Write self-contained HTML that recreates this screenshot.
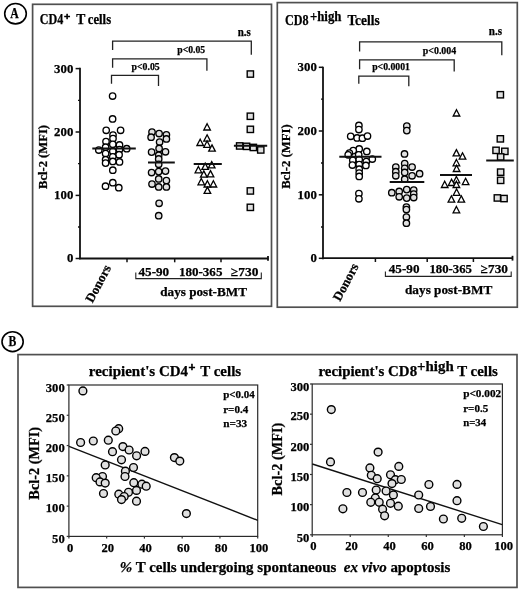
<!DOCTYPE html><html><head><meta charset="utf-8"><style>html,body{margin:0;padding:0;background:#fff;}svg{display:block;font-family:"Liberation Serif",serif;font-weight:bold;}text{stroke:#000;stroke-width:0.25px;paint-order:stroke;}.wrap{filter:grayscale(1);}</style></head><body>
<div class="wrap">
<svg width="520" height="590" viewBox="0 0 520 590">
<rect width="520" height="590" fill="#fff"/>
<rect x="32.6" y="4.3" width="238.9" height="302" fill="none" stroke="#505050" stroke-width="1.7"/>
<rect x="277.3" y="2.6" width="240" height="304.6" fill="none" stroke="#505050" stroke-width="1.7"/>
<rect x="18" y="354.6" width="499" height="232.8" fill="none" stroke="#505050" stroke-width="1.7"/>
<ellipse cx="15.5" cy="13.7" rx="10.8" ry="10.2" fill="none" stroke="#000" stroke-width="1.6"/>
<text x="10.3" y="18.2" font-size="14.5" text-anchor="start" textLength="8.5" lengthAdjust="spacingAndGlyphs" >A</text>
<ellipse cx="12.6" cy="341.7" rx="10.6" ry="9.9" fill="none" stroke="#000" stroke-width="1.6"/>
<text x="8.4" y="345.8" font-size="14.5" text-anchor="start" textLength="7.8" lengthAdjust="spacingAndGlyphs" >B</text>
<text x="39.8" y="24" font-size="13.6" text-anchor="start" ><tspan textLength="23.5" lengthAdjust="spacingAndGlyphs">CD4</tspan><tspan font-size="11" dy="-4.3" dx="0.8" style="stroke-width:0.7px">+</tspan><tspan dy="4.3" x="76.3">T</tspan><tspan x="87.8" textLength="23.3" lengthAdjust="spacingAndGlyphs">cells</tspan></text>
<path d="M112.6,50 V41.2 H251.3 V54.8" fill="none" stroke="#222" stroke-width="1.3"/>
<path d="M112.6,67.7 V58.9 H206.9 V70.8" fill="none" stroke="#222" stroke-width="1.3"/>
<path d="M111.5,83.8 V75.4 H158.5 V86" fill="none" stroke="#222" stroke-width="1.3"/>
<text x="237.7" y="35.6" font-size="11.5" text-anchor="start" textLength="13.1" lengthAdjust="spacingAndGlyphs" >n.s</text>
<text x="177.3" y="52.8" font-size="11" text-anchor="start" textLength="27.9" lengthAdjust="spacingAndGlyphs" >p&lt;0.05</text>
<text x="131.5" y="69.6" font-size="11" text-anchor="start" textLength="28.2" lengthAdjust="spacingAndGlyphs" >p&lt;0.05</text>
<line x1="80" y1="67.8" x2="80" y2="259.3" stroke="#111" stroke-width="1.8"/>
<line x1="75.6" y1="68.6" x2="80" y2="68.6" stroke="#111" stroke-width="1.5"/>
<text x="73.3" y="72.5" font-size="12.8" text-anchor="end" >300</text>
<line x1="75.6" y1="132.0" x2="80" y2="132.0" stroke="#111" stroke-width="1.5"/>
<text x="73.3" y="135.9" font-size="12.8" text-anchor="end" >200</text>
<line x1="75.6" y1="195.4" x2="80" y2="195.4" stroke="#111" stroke-width="1.5"/>
<text x="73.3" y="199.3" font-size="12.8" text-anchor="end" >100</text>
<line x1="75.6" y1="258.5" x2="80" y2="258.5" stroke="#111" stroke-width="1.5"/>
<text x="73.3" y="262.4" font-size="12.8" text-anchor="end" >0</text>
<line x1="78" y1="100.3" x2="80" y2="100.3" stroke="#111" stroke-width="1.3"/>
<line x1="78" y1="163.7" x2="80" y2="163.7" stroke="#111" stroke-width="1.3"/>
<line x1="78" y1="227.0" x2="80" y2="227.0" stroke="#111" stroke-width="1.3"/>
<line x1="79.2" y1="258.5" x2="268.3" y2="258.5" stroke="#111" stroke-width="1.8"/>
<line x1="127" y1="258.5" x2="127" y2="262.3" stroke="#111" stroke-width="1.5"/>
<line x1="174.7" y1="258.5" x2="174.7" y2="262.3" stroke="#111" stroke-width="1.5"/>
<line x1="221" y1="258.5" x2="221" y2="262.3" stroke="#111" stroke-width="1.5"/>
<line x1="268" y1="255.9" x2="268" y2="260.8" stroke="#111" stroke-width="1.8"/>
<text x="0" y="0" font-size="13" text-anchor="start" transform="translate(92.5,303.5) rotate(-62)">Donors</text>
<text x="138.5" y="275.6" font-size="12.6" text-anchor="start" textLength="30.7" lengthAdjust="spacingAndGlyphs" >45-90</text>
<text x="179" y="275.6" font-size="12.6" text-anchor="start" textLength="43.4" lengthAdjust="spacingAndGlyphs" >180-365</text>
<text x="231" y="275.6" font-size="12.6" text-anchor="start" textLength="27.5" lengthAdjust="spacingAndGlyphs" >≥730</text>
<path d="M135.8,272.5 V278.6 H261.3 V272.5" fill="none" stroke="#222" stroke-width="1.1"/>
<text x="160.3" y="295.5" font-size="13" text-anchor="start" textLength="86.7" lengthAdjust="spacingAndGlyphs" >days post-BMT</text>
<text x="0" y="0" font-size="13.1" text-anchor="middle" textLength="64" lengthAdjust="spacingAndGlyphs" transform="translate(47,157) rotate(-90)">Bcl-2 (MFI)</text>
<circle cx="112.6" cy="96" r="3.2" fill="#fff" stroke="#000" stroke-width="1.35"/>
<circle cx="112.6" cy="118.9" r="3.2" fill="#fff" stroke="#000" stroke-width="1.35"/>
<circle cx="106.2" cy="130.3" r="3.2" fill="#fff" stroke="#000" stroke-width="1.35"/>
<circle cx="120.6" cy="130.3" r="3.2" fill="#fff" stroke="#000" stroke-width="1.35"/>
<circle cx="113.0" cy="135" r="3.2" fill="#fff" stroke="#000" stroke-width="1.35"/>
<circle cx="113" cy="138.5" r="3.2" fill="#fff" stroke="#000" stroke-width="1.35"/>
<circle cx="106" cy="141.5" r="3.2" fill="#fff" stroke="#000" stroke-width="1.35"/>
<circle cx="112.8" cy="144.3" r="3.2" fill="#fff" stroke="#000" stroke-width="1.35"/>
<circle cx="119.5" cy="144.9" r="3.2" fill="#fff" stroke="#000" stroke-width="1.35"/>
<circle cx="105.6" cy="147.2" r="3.2" fill="#fff" stroke="#000" stroke-width="1.35"/>
<circle cx="98.8" cy="150" r="3.2" fill="#fff" stroke="#000" stroke-width="1.35"/>
<circle cx="112.8" cy="151.3" r="3.2" fill="#fff" stroke="#000" stroke-width="1.35"/>
<circle cx="119.5" cy="149.6" r="3.2" fill="#fff" stroke="#000" stroke-width="1.35"/>
<circle cx="126.7" cy="148.7" r="3.2" fill="#fff" stroke="#000" stroke-width="1.35"/>
<circle cx="105.6" cy="153.6" r="3.2" fill="#fff" stroke="#000" stroke-width="1.35"/>
<circle cx="119.1" cy="154.7" r="3.2" fill="#fff" stroke="#000" stroke-width="1.35"/>
<circle cx="112.8" cy="156.8" r="3.2" fill="#fff" stroke="#000" stroke-width="1.35"/>
<circle cx="105.6" cy="159.7" r="3.2" fill="#fff" stroke="#000" stroke-width="1.35"/>
<circle cx="105.6" cy="163.1" r="3.2" fill="#fff" stroke="#000" stroke-width="1.35"/>
<circle cx="112.8" cy="161.4" r="3.2" fill="#fff" stroke="#000" stroke-width="1.35"/>
<circle cx="119.5" cy="161.9" r="3.2" fill="#fff" stroke="#000" stroke-width="1.35"/>
<circle cx="112.8" cy="170.2" r="3.2" fill="#fff" stroke="#000" stroke-width="1.35"/>
<circle cx="105.5" cy="186.2" r="3.2" fill="#fff" stroke="#000" stroke-width="1.35"/>
<circle cx="112.8" cy="182.7" r="3.2" fill="#fff" stroke="#000" stroke-width="1.35"/>
<circle cx="118.8" cy="187.7" r="3.2" fill="#fff" stroke="#000" stroke-width="1.35"/>
<line x1="92.3" y1="148.4" x2="135.8" y2="148.4" stroke="#111" stroke-width="2"/>
<circle cx="152" cy="132.1" r="3.2" fill="#e0e0e0" stroke="#000" stroke-width="1.35"/>
<circle cx="159.1" cy="133.5" r="3.2" fill="#e0e0e0" stroke="#000" stroke-width="1.35"/>
<circle cx="166.4" cy="134.8" r="3.2" fill="#e0e0e0" stroke="#000" stroke-width="1.35"/>
<circle cx="151.1" cy="137.2" r="3.2" fill="#e0e0e0" stroke="#000" stroke-width="1.35"/>
<circle cx="166.4" cy="138.9" r="3.2" fill="#e0e0e0" stroke="#000" stroke-width="1.35"/>
<circle cx="159.6" cy="142" r="3.2" fill="#e0e0e0" stroke="#000" stroke-width="1.35"/>
<circle cx="159.1" cy="148.4" r="3.2" fill="#e0e0e0" stroke="#000" stroke-width="1.35"/>
<circle cx="151.6" cy="152.1" r="3.2" fill="#e0e0e0" stroke="#000" stroke-width="1.35"/>
<circle cx="165.5" cy="151.8" r="3.2" fill="#e0e0e0" stroke="#000" stroke-width="1.35"/>
<circle cx="158.7" cy="155.2" r="3.2" fill="#e0e0e0" stroke="#000" stroke-width="1.35"/>
<circle cx="158.7" cy="158.9" r="3.2" fill="#e0e0e0" stroke="#000" stroke-width="1.35"/>
<circle cx="158.7" cy="164.3" r="3.2" fill="#e0e0e0" stroke="#000" stroke-width="1.35"/>
<circle cx="151.6" cy="172.5" r="3.2" fill="#e0e0e0" stroke="#000" stroke-width="1.35"/>
<circle cx="158.7" cy="171.6" r="3.2" fill="#e0e0e0" stroke="#000" stroke-width="1.35"/>
<circle cx="165.5" cy="171.1" r="3.2" fill="#e0e0e0" stroke="#000" stroke-width="1.35"/>
<circle cx="158.7" cy="178.9" r="3.2" fill="#e0e0e0" stroke="#000" stroke-width="1.35"/>
<circle cx="166.4" cy="180.6" r="3.2" fill="#e0e0e0" stroke="#000" stroke-width="1.35"/>
<circle cx="152" cy="184" r="3.2" fill="#e0e0e0" stroke="#000" stroke-width="1.35"/>
<circle cx="158.7" cy="186.9" r="3.2" fill="#e0e0e0" stroke="#000" stroke-width="1.35"/>
<circle cx="166.4" cy="186.9" r="3.2" fill="#e0e0e0" stroke="#000" stroke-width="1.35"/>
<circle cx="159.1" cy="203.3" r="3.2" fill="#e0e0e0" stroke="#000" stroke-width="1.35"/>
<circle cx="158.7" cy="215.7" r="3.2" fill="#e0e0e0" stroke="#000" stroke-width="1.35"/>
<line x1="148" y1="162.5" x2="174.8" y2="162.5" stroke="#111" stroke-width="2"/>
<path d="M207.1,123.7 L210.4,130.0 L203.8,130.0 Z" fill="#fff" stroke="#000" stroke-width="1.3" stroke-linejoin="miter"/>
<path d="M207.1,134.8 L210.4,141.1 L203.8,141.1 Z" fill="#fff" stroke="#000" stroke-width="1.3" stroke-linejoin="miter"/>
<path d="M200.2,139.2 L203.5,145.5 L196.9,145.5 Z" fill="#fff" stroke="#000" stroke-width="1.3" stroke-linejoin="miter"/>
<path d="M207.1,141.0 L210.4,147.3 L203.8,147.3 Z" fill="#fff" stroke="#000" stroke-width="1.3" stroke-linejoin="miter"/>
<path d="M212.0,144.9 L215.3,151.2 L208.7,151.2 Z" fill="#fff" stroke="#000" stroke-width="1.3" stroke-linejoin="miter"/>
<path d="M205.2,163.1 L208.5,169.4 L201.9,169.4 Z" fill="#fff" stroke="#000" stroke-width="1.3" stroke-linejoin="miter"/>
<path d="M211.7,161.6 L215.0,167.9 L208.4,167.9 Z" fill="#fff" stroke="#000" stroke-width="1.3" stroke-linejoin="miter"/>
<path d="M198.4,166.5 L201.7,172.8 L195.1,172.8 Z" fill="#fff" stroke="#000" stroke-width="1.3" stroke-linejoin="miter"/>
<path d="M203.8,170.9 L207.1,177.2 L200.5,177.2 Z" fill="#fff" stroke="#000" stroke-width="1.3" stroke-linejoin="miter"/>
<path d="M210.5,170.6 L213.8,176.9 L207.2,176.9 Z" fill="#fff" stroke="#000" stroke-width="1.3" stroke-linejoin="miter"/>
<path d="M201.3,178.5 L204.6,184.8 L198.0,184.8 Z" fill="#fff" stroke="#000" stroke-width="1.3" stroke-linejoin="miter"/>
<path d="M207.4,180.7 L210.7,187.0 L204.1,187.0 Z" fill="#fff" stroke="#000" stroke-width="1.3" stroke-linejoin="miter"/>
<path d="M213.4,180.7 L216.7,187.0 L210.1,187.0 Z" fill="#fff" stroke="#000" stroke-width="1.3" stroke-linejoin="miter"/>
<path d="M207.4,187.1 L210.7,193.4 L204.1,193.4 Z" fill="#fff" stroke="#000" stroke-width="1.3" stroke-linejoin="miter"/>
<line x1="193.7" y1="164" x2="221.8" y2="164" stroke="#111" stroke-width="2"/>
<rect x="247.2" y="70.9" width="6.3" height="6.3" fill="#e0e0e0" stroke="#000" stroke-width="1.4"/>
<rect x="247.2" y="113.1" width="6.3" height="6.3" fill="#e0e0e0" stroke="#000" stroke-width="1.4"/>
<rect x="247.2" y="126.2" width="6.3" height="6.3" fill="#e0e0e0" stroke="#000" stroke-width="1.4"/>
<rect x="236.5" y="142.8" width="6.3" height="6.3" fill="#e0e0e0" stroke="#000" stroke-width="1.4"/>
<rect x="243.4" y="143.2" width="6.3" height="6.3" fill="#e0e0e0" stroke="#000" stroke-width="1.4"/>
<rect x="250.2" y="144.3" width="6.3" height="6.3" fill="#e0e0e0" stroke="#000" stroke-width="1.4"/>
<rect x="257.6" y="146.8" width="6.3" height="6.3" fill="#e0e0e0" stroke="#000" stroke-width="1.4"/>
<rect x="247.2" y="187.8" width="6.3" height="6.3" fill="#e0e0e0" stroke="#000" stroke-width="1.4"/>
<rect x="247.2" y="204.2" width="6.3" height="6.3" fill="#e0e0e0" stroke="#000" stroke-width="1.4"/>
<line x1="233.9" y1="145.7" x2="267.2" y2="145.7" stroke="#111" stroke-width="2"/>
<text x="285.1" y="25" font-size="14" text-anchor="start" ><tspan textLength="23.6" lengthAdjust="spacingAndGlyphs">CD8</tspan><tspan x="309.9" dy="-4.4" textLength="31.6" lengthAdjust="spacingAndGlyphs">+high</tspan></text>
<text x="347.4" y="25" font-size="14" text-anchor="start" textLength="32.2" lengthAdjust="spacingAndGlyphs" >Tcells</text>
<path d="M359.6,51.5 V41.8 H501.8 V55.2" fill="none" stroke="#222" stroke-width="1.3"/>
<path d="M359.6,69.2 V59.8 H454.2 V71.5" fill="none" stroke="#222" stroke-width="1.3"/>
<path d="M358.8,83.8 V76.2 H408.8 V86.2" fill="none" stroke="#222" stroke-width="1.3"/>
<text x="488.8" y="35.2" font-size="11.5" text-anchor="start" textLength="13.3" lengthAdjust="spacingAndGlyphs" >n.s</text>
<text x="422.8" y="53.5" font-size="11" text-anchor="start" textLength="33.4" lengthAdjust="spacingAndGlyphs" >p&lt;0.004</text>
<text x="372.2" y="70.1" font-size="11" text-anchor="start" textLength="37.8" lengthAdjust="spacingAndGlyphs" >p&lt;0.0001</text>
<line x1="323" y1="66.8" x2="323" y2="259.3" stroke="#111" stroke-width="1.8"/>
<line x1="318.8" y1="67.3" x2="323" y2="67.3" stroke="#111" stroke-width="1.5"/>
<text x="316.8" y="71.2" font-size="12.8" text-anchor="end" >300</text>
<line x1="318.8" y1="131.0" x2="323" y2="131.0" stroke="#111" stroke-width="1.5"/>
<text x="316.8" y="134.9" font-size="12.8" text-anchor="end" >200</text>
<line x1="318.8" y1="194.8" x2="323" y2="194.8" stroke="#111" stroke-width="1.5"/>
<text x="316.8" y="198.70000000000002" font-size="12.8" text-anchor="end" >100</text>
<line x1="318.8" y1="258.3" x2="323" y2="258.3" stroke="#111" stroke-width="1.5"/>
<text x="316.8" y="262.2" font-size="12.8" text-anchor="end" >0</text>
<line x1="321" y1="99.2" x2="323" y2="99.2" stroke="#111" stroke-width="1.3"/>
<line x1="321" y1="163" x2="323" y2="163" stroke="#111" stroke-width="1.3"/>
<line x1="321" y1="227" x2="323" y2="227" stroke="#111" stroke-width="1.3"/>
<line x1="322.2" y1="258.2" x2="512.8" y2="258.2" stroke="#111" stroke-width="1.8"/>
<line x1="375.4" y1="258.2" x2="375.4" y2="262" stroke="#111" stroke-width="1.5"/>
<line x1="427.2" y1="258.2" x2="427.2" y2="262" stroke="#111" stroke-width="1.5"/>
<line x1="473.4" y1="258.2" x2="473.4" y2="262" stroke="#111" stroke-width="1.5"/>
<line x1="512.5" y1="255.8" x2="512.5" y2="260.6" stroke="#111" stroke-width="1.8"/>
<text x="0" y="0" font-size="13" text-anchor="start" transform="translate(340,302) rotate(-62)">Donors</text>
<text x="388.8" y="273.4" font-size="12.6" text-anchor="start" textLength="30.7" lengthAdjust="spacingAndGlyphs" >45-90</text>
<text x="429.5" y="273.4" font-size="12.6" text-anchor="start" textLength="42.5" lengthAdjust="spacingAndGlyphs" >180-365</text>
<text x="480.8" y="273.4" font-size="12.6" text-anchor="start" textLength="27.2" lengthAdjust="spacingAndGlyphs" >≥730</text>
<path d="M385.4,271.4 V276.4 H511.2 V271.4" fill="none" stroke="#222" stroke-width="1.1"/>
<text x="405" y="294" font-size="13" text-anchor="start" textLength="87.3" lengthAdjust="spacingAndGlyphs" >days post-BMT</text>
<text x="0" y="0" font-size="13.1" text-anchor="middle" textLength="64.5" lengthAdjust="spacingAndGlyphs" transform="translate(290,156.6) rotate(-90)">Bcl-2 (MFI)</text>
<circle cx="358.9" cy="125.4" r="3.2" fill="#fff" stroke="#000" stroke-width="1.35"/>
<circle cx="358.9" cy="129.5" r="3.2" fill="#fff" stroke="#000" stroke-width="1.35"/>
<circle cx="350.7" cy="136.3" r="3.2" fill="#fff" stroke="#000" stroke-width="1.35"/>
<circle cx="357.1" cy="137.9" r="3.2" fill="#fff" stroke="#000" stroke-width="1.35"/>
<circle cx="362.4" cy="138.2" r="3.2" fill="#fff" stroke="#000" stroke-width="1.35"/>
<circle cx="367.5" cy="136" r="3.2" fill="#fff" stroke="#000" stroke-width="1.35"/>
<circle cx="359.2" cy="148.9" r="3.2" fill="#fff" stroke="#000" stroke-width="1.35"/>
<circle cx="353.2" cy="150.6" r="3.2" fill="#fff" stroke="#000" stroke-width="1.35"/>
<circle cx="366.8" cy="151.4" r="3.2" fill="#fff" stroke="#000" stroke-width="1.35"/>
<circle cx="349.4" cy="153.1" r="3.2" fill="#fff" stroke="#000" stroke-width="1.35"/>
<circle cx="348.2" cy="154.8" r="3.2" fill="#fff" stroke="#000" stroke-width="1.35"/>
<circle cx="358.7" cy="154.8" r="3.2" fill="#fff" stroke="#000" stroke-width="1.35"/>
<circle cx="372.3" cy="159" r="3.2" fill="#fff" stroke="#000" stroke-width="1.35"/>
<circle cx="352.8" cy="160.3" r="3.2" fill="#fff" stroke="#000" stroke-width="1.35"/>
<circle cx="359.2" cy="159.5" r="3.2" fill="#fff" stroke="#000" stroke-width="1.35"/>
<circle cx="366.3" cy="161.6" r="3.2" fill="#fff" stroke="#000" stroke-width="1.35"/>
<circle cx="352.4" cy="165" r="3.2" fill="#fff" stroke="#000" stroke-width="1.35"/>
<circle cx="359.2" cy="164.5" r="3.2" fill="#fff" stroke="#000" stroke-width="1.35"/>
<circle cx="365.9" cy="165.4" r="3.2" fill="#fff" stroke="#000" stroke-width="1.35"/>
<circle cx="359.2" cy="169.2" r="3.2" fill="#fff" stroke="#000" stroke-width="1.35"/>
<circle cx="359.2" cy="173" r="3.2" fill="#fff" stroke="#000" stroke-width="1.35"/>
<circle cx="359.2" cy="176.4" r="3.2" fill="#fff" stroke="#000" stroke-width="1.35"/>
<circle cx="358.9" cy="193.5" r="3.2" fill="#fff" stroke="#000" stroke-width="1.35"/>
<circle cx="358.9" cy="198.8" r="3.2" fill="#fff" stroke="#000" stroke-width="1.35"/>
<line x1="339.3" y1="156.7" x2="381.5" y2="156.7" stroke="#111" stroke-width="2"/>
<circle cx="406.8" cy="126.1" r="3.2" fill="#e0e0e0" stroke="#000" stroke-width="1.35"/>
<circle cx="406.8" cy="130.6" r="3.2" fill="#e0e0e0" stroke="#000" stroke-width="1.35"/>
<circle cx="404.5" cy="153.9" r="3.2" fill="#e0e0e0" stroke="#000" stroke-width="1.35"/>
<circle cx="404.7" cy="163.6" r="3.2" fill="#e0e0e0" stroke="#000" stroke-width="1.35"/>
<circle cx="395.8" cy="167" r="3.2" fill="#e0e0e0" stroke="#000" stroke-width="1.35"/>
<circle cx="412.1" cy="167" r="3.2" fill="#e0e0e0" stroke="#000" stroke-width="1.35"/>
<circle cx="404.7" cy="168.3" r="3.2" fill="#e0e0e0" stroke="#000" stroke-width="1.35"/>
<circle cx="395.8" cy="171.7" r="3.2" fill="#e0e0e0" stroke="#000" stroke-width="1.35"/>
<circle cx="404.7" cy="172.4" r="3.2" fill="#e0e0e0" stroke="#000" stroke-width="1.35"/>
<circle cx="419.6" cy="173.7" r="3.2" fill="#e0e0e0" stroke="#000" stroke-width="1.35"/>
<circle cx="395.8" cy="175.8" r="3.2" fill="#e0e0e0" stroke="#000" stroke-width="1.35"/>
<circle cx="412.1" cy="175.8" r="3.2" fill="#e0e0e0" stroke="#000" stroke-width="1.35"/>
<circle cx="404.7" cy="179.2" r="3.2" fill="#e0e0e0" stroke="#000" stroke-width="1.35"/>
<circle cx="391.8" cy="192.7" r="3.2" fill="#e0e0e0" stroke="#000" stroke-width="1.35"/>
<circle cx="399.2" cy="191.4" r="3.2" fill="#e0e0e0" stroke="#000" stroke-width="1.35"/>
<circle cx="406.7" cy="189.6" r="3.2" fill="#e0e0e0" stroke="#000" stroke-width="1.35"/>
<circle cx="413.7" cy="190" r="3.2" fill="#e0e0e0" stroke="#000" stroke-width="1.35"/>
<circle cx="399.2" cy="196.8" r="3.2" fill="#e0e0e0" stroke="#000" stroke-width="1.35"/>
<circle cx="406.7" cy="198.1" r="3.2" fill="#e0e0e0" stroke="#000" stroke-width="1.35"/>
<circle cx="413.7" cy="194.1" r="3.2" fill="#e0e0e0" stroke="#000" stroke-width="1.35"/>
<circle cx="413.7" cy="197.5" r="3.2" fill="#e0e0e0" stroke="#000" stroke-width="1.35"/>
<circle cx="406.4" cy="207" r="3.2" fill="#e0e0e0" stroke="#000" stroke-width="1.35"/>
<circle cx="406.4" cy="209.5" r="3.2" fill="#e0e0e0" stroke="#000" stroke-width="1.35"/>
<circle cx="406.4" cy="217.1" r="3.2" fill="#e0e0e0" stroke="#000" stroke-width="1.35"/>
<circle cx="406.4" cy="223.2" r="3.2" fill="#e0e0e0" stroke="#000" stroke-width="1.35"/>
<line x1="389.7" y1="182.1" x2="424.3" y2="182.1" stroke="#111" stroke-width="2"/>
<path d="M456.5,109.7 L459.8,116.0 L453.2,116.0 Z" fill="#fff" stroke="#000" stroke-width="1.3" stroke-linejoin="miter"/>
<path d="M456.4,149.6 L459.7,155.9 L453.1,155.9 Z" fill="#fff" stroke="#000" stroke-width="1.3" stroke-linejoin="miter"/>
<path d="M462.5,152.8 L465.8,159.1 L459.2,159.1 Z" fill="#fff" stroke="#000" stroke-width="1.3" stroke-linejoin="miter"/>
<path d="M456.4,159.5 L459.7,165.8 L453.1,165.8 Z" fill="#fff" stroke="#000" stroke-width="1.3" stroke-linejoin="miter"/>
<path d="M456.6,165.2 L459.9,171.5 L453.3,171.5 Z" fill="#fff" stroke="#000" stroke-width="1.3" stroke-linejoin="miter"/>
<path d="M456.4,176.5 L459.7,182.8 L453.1,182.8 Z" fill="#fff" stroke="#000" stroke-width="1.3" stroke-linejoin="miter"/>
<path d="M444.7,181.2 L448.0,187.5 L441.4,187.5 Z" fill="#fff" stroke="#000" stroke-width="1.3" stroke-linejoin="miter"/>
<path d="M451.6,179.2 L454.9,185.5 L448.3,185.5 Z" fill="#fff" stroke="#000" stroke-width="1.3" stroke-linejoin="miter"/>
<path d="M456.4,181.2 L459.7,187.5 L453.1,187.5 Z" fill="#fff" stroke="#000" stroke-width="1.3" stroke-linejoin="miter"/>
<path d="M465.6,178.3 L468.9,184.6 L462.3,184.6 Z" fill="#fff" stroke="#000" stroke-width="1.3" stroke-linejoin="miter"/>
<path d="M456.6,189.0 L459.9,195.3 L453.3,195.3 Z" fill="#fff" stroke="#000" stroke-width="1.3" stroke-linejoin="miter"/>
<path d="M451.4,195.8 L454.7,202.1 L448.1,202.1 Z" fill="#fff" stroke="#000" stroke-width="1.3" stroke-linejoin="miter"/>
<path d="M461.3,195.8 L464.6,202.1 L458.0,202.1 Z" fill="#fff" stroke="#000" stroke-width="1.3" stroke-linejoin="miter"/>
<path d="M456.4,206.5 L459.7,212.8 L453.1,212.8 Z" fill="#fff" stroke="#000" stroke-width="1.3" stroke-linejoin="miter"/>
<line x1="440" y1="175" x2="472" y2="175" stroke="#111" stroke-width="2"/>
<rect x="497.2" y="91.6" width="6.3" height="6.3" fill="#e0e0e0" stroke="#000" stroke-width="1.4"/>
<rect x="497.2" y="135.7" width="6.3" height="6.3" fill="#e0e0e0" stroke="#000" stroke-width="1.4"/>
<rect x="492.9" y="147.2" width="6.3" height="6.3" fill="#e0e0e0" stroke="#000" stroke-width="1.4"/>
<rect x="501.7" y="148.2" width="6.3" height="6.3" fill="#e0e0e0" stroke="#000" stroke-width="1.4"/>
<rect x="497.5" y="153.8" width="6.3" height="6.3" fill="#e0e0e0" stroke="#000" stroke-width="1.4"/>
<rect x="497.5" y="169.0" width="6.3" height="6.3" fill="#e0e0e0" stroke="#000" stroke-width="1.4"/>
<rect x="497.5" y="177.2" width="6.3" height="6.3" fill="#e0e0e0" stroke="#000" stroke-width="1.4"/>
<rect x="494.2" y="194.8" width="6.3" height="6.3" fill="#e0e0e0" stroke="#000" stroke-width="1.4"/>
<rect x="500.9" y="195.4" width="6.3" height="6.3" fill="#e0e0e0" stroke="#000" stroke-width="1.4"/>
<line x1="486.2" y1="160.5" x2="513.8" y2="160.5" stroke="#111" stroke-width="2"/>
<rect x="68.9" y="385" width="188.79999999999998" height="151.39999999999998" fill="none" stroke="#2a2a2a" stroke-width="1.2"/>
<line x1="66.7" y1="385.0" x2="68.9" y2="385.0" stroke="#333" stroke-width="1.2"/>
<text x="64.7" y="392.0" font-size="12.6" text-anchor="end" >300</text>
<line x1="66.7" y1="415.28" x2="68.9" y2="415.28" stroke="#333" stroke-width="1.2"/>
<text x="64.7" y="421.58" font-size="12.6" text-anchor="end" >250</text>
<line x1="66.7" y1="445.56" x2="68.9" y2="445.56" stroke="#333" stroke-width="1.2"/>
<text x="64.7" y="451.86" font-size="12.6" text-anchor="end" >200</text>
<line x1="66.7" y1="475.84" x2="68.9" y2="475.84" stroke="#333" stroke-width="1.2"/>
<text x="64.7" y="482.14" font-size="12.6" text-anchor="end" >150</text>
<line x1="66.7" y1="506.12" x2="68.9" y2="506.12" stroke="#333" stroke-width="1.2"/>
<text x="64.7" y="512.42" font-size="12.6" text-anchor="end" >100</text>
<line x1="66.7" y1="536.4" x2="68.9" y2="536.4" stroke="#333" stroke-width="1.2"/>
<text x="64.7" y="543.3" font-size="12.6" text-anchor="end" >50</text>
<line x1="68.9" y1="536.4" x2="68.9" y2="538.6" stroke="#333" stroke-width="1.2"/>
<text x="70.10000000000001" y="551.5" font-size="12.6" text-anchor="middle" >0</text>
<line x1="106.66" y1="536.4" x2="106.66" y2="538.6" stroke="#333" stroke-width="1.2"/>
<text x="107.86" y="551.5" font-size="12.6" text-anchor="middle" >20</text>
<line x1="144.42000000000002" y1="536.4" x2="144.42000000000002" y2="538.6" stroke="#333" stroke-width="1.2"/>
<text x="145.62" y="551.5" font-size="12.6" text-anchor="middle" >40</text>
<line x1="182.18" y1="536.4" x2="182.18" y2="538.6" stroke="#333" stroke-width="1.2"/>
<text x="183.38" y="551.5" font-size="12.6" text-anchor="middle" >60</text>
<line x1="219.94" y1="536.4" x2="219.94" y2="538.6" stroke="#333" stroke-width="1.2"/>
<text x="221.14" y="551.5" font-size="12.6" text-anchor="middle" >80</text>
<line x1="257.7" y1="536.4" x2="257.7" y2="538.6" stroke="#333" stroke-width="1.2"/>
<text x="258.9" y="551.5" font-size="12.6" text-anchor="middle" >100</text>
<line x1="69" y1="446.3" x2="257.7" y2="520.3" stroke="#111" stroke-width="1.4"/>
<circle cx="82.9" cy="390.9" r="3.9" fill="#e0e0e0" stroke="#000" stroke-width="1.4"/>
<circle cx="80.6" cy="442.5" r="3.9" fill="#e0e0e0" stroke="#000" stroke-width="1.4"/>
<circle cx="93.3" cy="441" r="3.9" fill="#e0e0e0" stroke="#000" stroke-width="1.4"/>
<circle cx="108.3" cy="440.2" r="3.9" fill="#e0e0e0" stroke="#000" stroke-width="1.4"/>
<circle cx="118.7" cy="428.7" r="3.9" fill="#e0e0e0" stroke="#000" stroke-width="1.4"/>
<circle cx="115.8" cy="431" r="3.9" fill="#e0e0e0" stroke="#000" stroke-width="1.4"/>
<circle cx="112.5" cy="451.7" r="3.9" fill="#e0e0e0" stroke="#000" stroke-width="1.4"/>
<circle cx="122.9" cy="446.6" r="3.9" fill="#e0e0e0" stroke="#000" stroke-width="1.4"/>
<circle cx="121.5" cy="459.8" r="3.9" fill="#e0e0e0" stroke="#000" stroke-width="1.4"/>
<circle cx="105.2" cy="465" r="3.9" fill="#e0e0e0" stroke="#000" stroke-width="1.4"/>
<circle cx="102.5" cy="476.5" r="3.9" fill="#e0e0e0" stroke="#000" stroke-width="1.4"/>
<circle cx="96.2" cy="477.7" r="3.9" fill="#e0e0e0" stroke="#000" stroke-width="1.4"/>
<circle cx="133.5" cy="467.5" r="3.9" fill="#e0e0e0" stroke="#000" stroke-width="1.4"/>
<circle cx="125.4" cy="471.2" r="3.9" fill="#e0e0e0" stroke="#000" stroke-width="1.4"/>
<circle cx="125" cy="476.5" r="3.9" fill="#e0e0e0" stroke="#000" stroke-width="1.4"/>
<circle cx="100" cy="481.9" r="3.9" fill="#e0e0e0" stroke="#000" stroke-width="1.4"/>
<circle cx="105.2" cy="483.1" r="3.9" fill="#e0e0e0" stroke="#000" stroke-width="1.4"/>
<circle cx="103.5" cy="493.5" r="3.9" fill="#e0e0e0" stroke="#000" stroke-width="1.4"/>
<circle cx="133.8" cy="482.7" r="3.9" fill="#e0e0e0" stroke="#000" stroke-width="1.4"/>
<circle cx="141.9" cy="484.2" r="3.9" fill="#e0e0e0" stroke="#000" stroke-width="1.4"/>
<circle cx="146.2" cy="486.2" r="3.9" fill="#e0e0e0" stroke="#000" stroke-width="1.4"/>
<circle cx="136.5" cy="490.4" r="3.9" fill="#e0e0e0" stroke="#000" stroke-width="1.4"/>
<circle cx="128.5" cy="492.3" r="3.9" fill="#e0e0e0" stroke="#000" stroke-width="1.4"/>
<circle cx="118.8" cy="494.2" r="3.9" fill="#e0e0e0" stroke="#000" stroke-width="1.4"/>
<circle cx="124.2" cy="496.5" r="3.9" fill="#e0e0e0" stroke="#000" stroke-width="1.4"/>
<circle cx="121.5" cy="499.6" r="3.9" fill="#e0e0e0" stroke="#000" stroke-width="1.4"/>
<circle cx="136.5" cy="501.2" r="3.9" fill="#e0e0e0" stroke="#000" stroke-width="1.4"/>
<circle cx="129.1" cy="450" r="3.9" fill="#e0e0e0" stroke="#000" stroke-width="1.4"/>
<circle cx="136.6" cy="455.8" r="3.9" fill="#e0e0e0" stroke="#000" stroke-width="1.4"/>
<circle cx="145" cy="451.4" r="3.9" fill="#e0e0e0" stroke="#000" stroke-width="1.4"/>
<circle cx="174.4" cy="457.6" r="3.9" fill="#e0e0e0" stroke="#000" stroke-width="1.4"/>
<circle cx="179.8" cy="461.1" r="3.9" fill="#e0e0e0" stroke="#000" stroke-width="1.4"/>
<circle cx="186.4" cy="513.6" r="3.9" fill="#e0e0e0" stroke="#000" stroke-width="1.4"/>
<text x="88.8" y="376.2" font-size="15" text-anchor="start" >recipient's CD4<tspan font-size="12" dy="-5" dx="0.3" style="stroke-width:0.7px">+</tspan><tspan dy="5" dx="1.5"> T cells</tspan></text>
<text x="223.2" y="398" font-size="10.6" text-anchor="start" textLength="31.5" lengthAdjust="spacingAndGlyphs" >p&lt;0.04</text>
<text x="223.2" y="413.4" font-size="10.6" text-anchor="start" textLength="25" lengthAdjust="spacingAndGlyphs" >r=0.4</text>
<text x="223.2" y="427.3" font-size="10.6" text-anchor="start" textLength="24" lengthAdjust="spacingAndGlyphs" >n=33</text>
<text x="0" y="0" font-size="14.3" text-anchor="middle" transform="translate(38.9,463.3) rotate(-90)">Bcl-2 (MFI)</text>
<rect x="312.2" y="384" width="190.2" height="150.79999999999995" fill="none" stroke="#2a2a2a" stroke-width="1.2"/>
<line x1="310.0" y1="384.0" x2="312.2" y2="384.0" stroke="#333" stroke-width="1.2"/>
<text x="309.3" y="391.0" font-size="12.6" text-anchor="end" >300</text>
<line x1="310.0" y1="414.15999999999997" x2="312.2" y2="414.15999999999997" stroke="#333" stroke-width="1.2"/>
<text x="309.3" y="420.46" font-size="12.6" text-anchor="end" >250</text>
<line x1="310.0" y1="444.32" x2="312.2" y2="444.32" stroke="#333" stroke-width="1.2"/>
<text x="309.3" y="450.62" font-size="12.6" text-anchor="end" >200</text>
<line x1="310.0" y1="474.47999999999996" x2="312.2" y2="474.47999999999996" stroke="#333" stroke-width="1.2"/>
<text x="309.3" y="480.78" font-size="12.6" text-anchor="end" >150</text>
<line x1="310.0" y1="504.64" x2="312.2" y2="504.64" stroke="#333" stroke-width="1.2"/>
<text x="309.3" y="510.94" font-size="12.6" text-anchor="end" >100</text>
<line x1="310.0" y1="534.8" x2="312.2" y2="534.8" stroke="#333" stroke-width="1.2"/>
<text x="309.3" y="541.6999999999999" font-size="12.6" text-anchor="end" >50</text>
<line x1="312.2" y1="534.8" x2="312.2" y2="537.0" stroke="#333" stroke-width="1.2"/>
<text x="313.4" y="549.9" font-size="12.6" text-anchor="middle" >0</text>
<line x1="350.24" y1="534.8" x2="350.24" y2="537.0" stroke="#333" stroke-width="1.2"/>
<text x="351.44" y="549.9" font-size="12.6" text-anchor="middle" >20</text>
<line x1="388.28" y1="534.8" x2="388.28" y2="537.0" stroke="#333" stroke-width="1.2"/>
<text x="389.47999999999996" y="549.9" font-size="12.6" text-anchor="middle" >40</text>
<line x1="426.31999999999994" y1="534.8" x2="426.31999999999994" y2="537.0" stroke="#333" stroke-width="1.2"/>
<text x="427.5199999999999" y="549.9" font-size="12.6" text-anchor="middle" >60</text>
<line x1="464.36" y1="534.8" x2="464.36" y2="537.0" stroke="#333" stroke-width="1.2"/>
<text x="465.56" y="549.9" font-size="12.6" text-anchor="middle" >80</text>
<line x1="502.4" y1="534.8" x2="502.4" y2="537.0" stroke="#333" stroke-width="1.2"/>
<text x="503.59999999999997" y="549.9" font-size="12.6" text-anchor="middle" >100</text>
<line x1="312.3" y1="464" x2="502.2" y2="524.6" stroke="#111" stroke-width="1.4"/>
<circle cx="331.3" cy="409.6" r="3.9" fill="#e0e0e0" stroke="#000" stroke-width="1.4"/>
<circle cx="330.5" cy="461.9" r="3.9" fill="#e0e0e0" stroke="#000" stroke-width="1.4"/>
<circle cx="346.9" cy="492.5" r="3.9" fill="#e0e0e0" stroke="#000" stroke-width="1.4"/>
<circle cx="362.5" cy="492.5" r="3.9" fill="#e0e0e0" stroke="#000" stroke-width="1.4"/>
<circle cx="342.9" cy="508.8" r="3.9" fill="#e0e0e0" stroke="#000" stroke-width="1.4"/>
<circle cx="378.1" cy="452.1" r="3.9" fill="#e0e0e0" stroke="#000" stroke-width="1.4"/>
<circle cx="369.9" cy="467.9" r="3.9" fill="#e0e0e0" stroke="#000" stroke-width="1.4"/>
<circle cx="371.3" cy="475.3" r="3.9" fill="#e0e0e0" stroke="#000" stroke-width="1.4"/>
<circle cx="377.2" cy="478.7" r="3.9" fill="#e0e0e0" stroke="#000" stroke-width="1.4"/>
<circle cx="398.8" cy="466.4" r="3.9" fill="#e0e0e0" stroke="#000" stroke-width="1.4"/>
<circle cx="390.5" cy="474.8" r="3.9" fill="#e0e0e0" stroke="#000" stroke-width="1.4"/>
<circle cx="395.4" cy="479.7" r="3.9" fill="#e0e0e0" stroke="#000" stroke-width="1.4"/>
<circle cx="401.3" cy="479.5" r="3.9" fill="#e0e0e0" stroke="#000" stroke-width="1.4"/>
<circle cx="392" cy="483.6" r="3.9" fill="#e0e0e0" stroke="#000" stroke-width="1.4"/>
<circle cx="376.2" cy="490" r="3.9" fill="#e0e0e0" stroke="#000" stroke-width="1.4"/>
<circle cx="386.1" cy="491" r="3.9" fill="#e0e0e0" stroke="#000" stroke-width="1.4"/>
<circle cx="393.4" cy="494.9" r="3.9" fill="#e0e0e0" stroke="#000" stroke-width="1.4"/>
<circle cx="375.3" cy="497.9" r="3.9" fill="#e0e0e0" stroke="#000" stroke-width="1.4"/>
<circle cx="370.8" cy="502.3" r="3.9" fill="#e0e0e0" stroke="#000" stroke-width="1.4"/>
<circle cx="379.2" cy="502.3" r="3.9" fill="#e0e0e0" stroke="#000" stroke-width="1.4"/>
<circle cx="390.5" cy="503.3" r="3.9" fill="#e0e0e0" stroke="#000" stroke-width="1.4"/>
<circle cx="398.3" cy="506.2" r="3.9" fill="#e0e0e0" stroke="#000" stroke-width="1.4"/>
<circle cx="382.6" cy="509.2" r="3.9" fill="#e0e0e0" stroke="#000" stroke-width="1.4"/>
<circle cx="384.6" cy="515.8" r="3.9" fill="#e0e0e0" stroke="#000" stroke-width="1.4"/>
<circle cx="428.9" cy="484.5" r="3.9" fill="#e0e0e0" stroke="#000" stroke-width="1.4"/>
<circle cx="418.7" cy="495" r="3.9" fill="#e0e0e0" stroke="#000" stroke-width="1.4"/>
<circle cx="418.7" cy="508.5" r="3.9" fill="#e0e0e0" stroke="#000" stroke-width="1.4"/>
<circle cx="430.5" cy="506.5" r="3.9" fill="#e0e0e0" stroke="#000" stroke-width="1.4"/>
<circle cx="457" cy="484.4" r="3.9" fill="#e0e0e0" stroke="#000" stroke-width="1.4"/>
<circle cx="457" cy="500.7" r="3.9" fill="#e0e0e0" stroke="#000" stroke-width="1.4"/>
<circle cx="443.4" cy="519" r="3.9" fill="#e0e0e0" stroke="#000" stroke-width="1.4"/>
<circle cx="461.7" cy="518.3" r="3.9" fill="#e0e0e0" stroke="#000" stroke-width="1.4"/>
<circle cx="483.4" cy="526.5" r="3.9" fill="#e0e0e0" stroke="#000" stroke-width="1.4"/>
<text x="318.5" y="376" font-size="14.9" text-anchor="start" >recipient's CD8<tspan dy="-5.2">+high</tspan><tspan dy="5.2"> T cells</tspan></text>
<text x="463.2" y="397" font-size="10.6" text-anchor="start" textLength="38" lengthAdjust="spacingAndGlyphs" >p&lt;0.002</text>
<text x="463.2" y="412.4" font-size="10.6" text-anchor="start" textLength="25" lengthAdjust="spacingAndGlyphs" >r=0.5</text>
<text x="463.2" y="426.3" font-size="10.6" text-anchor="start" textLength="23" lengthAdjust="spacingAndGlyphs" >n=34</text>
<text x="0" y="0" font-size="14.3" text-anchor="middle" transform="translate(281.6,459.1) rotate(-90)">Bcl-2 (MFI)</text>
<text x="119.8" y="571.8" font-size="14.9" text-anchor="start" textLength="330.5" lengthAdjust="spacingAndGlyphs" xml:space="preserve"><tspan font-style="italic">%</tspan> T cells undergoing spontaneous  <tspan font-style="italic">ex vivo</tspan> apoptosis</text>
</svg></div></body></html>
